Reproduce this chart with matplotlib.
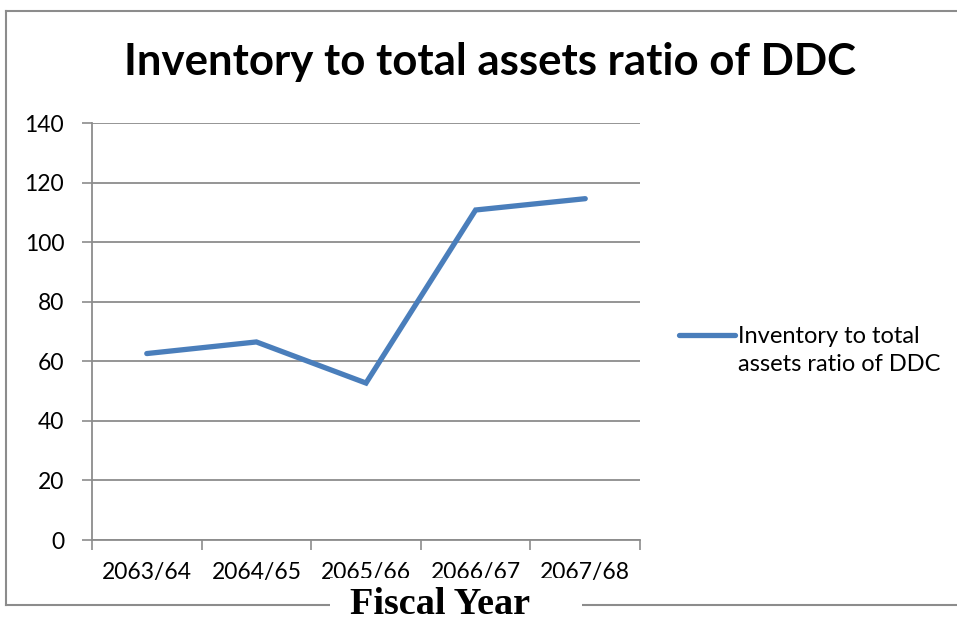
import matplotlib
matplotlib.use("Agg")
import matplotlib.pyplot as plt
from matplotlib.lines import Line2D
from matplotlib.patches import Rectangle

# Data
years = ["2063/64", "2064/65", "2065/66", "2066/67", "2067/68"]
ratio = [62.6, 66.5, 52.7, 110.8, 114.6]
series_name = "Inventory to total\nassets ratio of DDC"

plt.rcParams['font.family'] = ['Lato', 'DejaVu Sans']

fig = plt.figure(figsize=(9.57, 6.21), dpi=100)
ax = fig.add_axes([0.0961, 0.1304, 0.5727, 0.6715])

x = list(range(len(years)))
line_color = '#4A7EBB'
grid_color = '#8C8C8C'

ax.plot(x, ratio, color=line_color, lw=3.8, solid_capstyle='round',
        solid_joinstyle='miter', label=series_name, zorder=3)

ax.set_ylim(0, 140)
ax.set_yticks(range(0, 141, 20))
ax.set_xlim(-0.5, len(years) - 0.5)
# tick marks between categories, labels at category centres
ax.set_xticks([i - 0.5 for i in range(len(years) + 1)])
ax.set_xticklabels([])
ax.set_xticks(x, minor=True)
ax.set_xticklabels(years, minor=True)
ax.tick_params(axis='x', which='major', length=7, width=1.2, color=grid_color, direction='out')
ax.tick_params(axis='x', which='minor', length=0, pad=16, labelsize=16.5)
ax.tick_params(axis='y', length=7, width=1.2, color=grid_color, pad=13, labelsize=16.5)

ax.grid(axis='y', color=grid_color, lw=1.3)
ax.set_axisbelow(True)
for s in ['top', 'right']:
    ax.spines[s].set_visible(False)
for s in ['left', 'bottom']:
    ax.spines[s].set_color(grid_color)
    ax.spines[s].set_linewidth(1.3)

fig.suptitle("Inventory to total assets ratio of DDC", x=0.512, y=0.90,
             va='center', fontsize=31.5, fontweight='bold')

leg = ax.legend(loc='center left', bbox_to_anchor=(0.709, 0.435),
                bbox_transform=fig.transFigure, frameon=False,
                borderpad=0, borderaxespad=0,
                fontsize=17, handlelength=2.4, handletextpad=0.1)
for t in leg.get_texts():
    t.set_linespacing(1.4)
# keep the legend line level with the first text line
for col in leg._legend_handle_box.get_children():
    for row in col.get_children():
        row.align = 'top'

# chart border (top, left, bottom)
border = dict(color='#8C8C8C', lw=1.5, transform=fig.transFigure)
fig.add_artist(Line2D([0.006, 1.0], [0.983, 0.983], **border))
fig.add_artist(Line2D([0.006, 0.006], [0.983, 0.026], **border))
fig.add_artist(Line2D([0.006, 1.0], [0.026, 0.026], **border))

# axis title box sits over the border and the tick labels
fig.add_artist(Rectangle((0.345, 0.0), 0.263, 0.07, transform=fig.transFigure,
                         facecolor='white', edgecolor='none', zorder=4))
fig.text(0.46, 0.026, "Fiscal Year", ha='center', va='center', fontsize=27.5,
         fontweight='bold', family='Liberation Serif', zorder=5)

fig.savefig('out.png', dpi=100)
